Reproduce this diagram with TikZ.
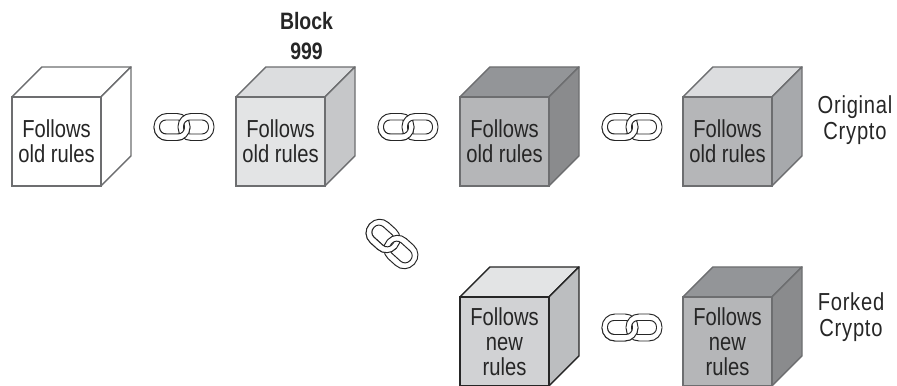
\documentclass[tikz,border=0pt]{standalone}
\usepackage{fontspec}
\setmainfont[FakeStretch=0.82]{Liberation Sans}
\tikzset{
    cubelabel/.style={align=center, text=black!85, font=\fontsize{14}{14.2}\selectfont, inner sep=0pt},
    sidelabel/.style={align=center, text=black!85, font=\fontsize{14}{14.8}\selectfont\addfontfeature{LetterSpace=3}, inner sep=0pt},
    linkring/.style={draw=black!85, line width=0.55pt, fill=white, even odd rule}
}
% cube: name, front lower left x y, front, top, side, edge colour, text
\newcommand{\cubeblock}[8]{
    \draw[draw=#7, line width=0.8pt, line join=round, fill=#5] (#2,#3+1.78) -- ++(0.6,0.6) -- ++(1.78,0) -- ++(-0.6,-0.6) -- cycle;
    \draw[draw=#7, line width=0.8pt, line join=round, fill=#6] (#2+1.78,#3) -- ++(0.6,0.6) -- ++(0,1.78) -- ++(-0.6,-0.6) -- cycle;
    \draw[draw=#7, line width=0.8pt, fill=#4] (#2,#3) rectangle ++(1.78,1.78);
    \node[cubelabel] (#1) at (#2+0.89,#3+0.89) {#8};
}
% one ring of a link, centred on x
\newcommand{\linkpart}[1]{
    \path[linkring] [rounded corners=0.26cm] (#1-0.36,-0.27) rectangle (#1+0.36,0.27)
        [rounded corners=0.13cm] (#1-0.25,-0.14) rectangle (#1+0.25,0.14);
}
% chain link: centre x y, angle
\newcommand{\chainlink}[3]{
    \begin{scope}[shift={(#1,#2)}, rotate=#3]
        \linkpart{-0.24}
        \linkpart{0.24}
        \begin{scope}
            \clip (-0.8,0) rectangle (0.8,-0.4);
            \linkpart{-0.24}
        \end{scope}
    \end{scope}
}
\definecolor{edgegray}{HTML}{6D6E70}
\definecolor{paleface}{HTML}{E3E4E5}
\definecolor{paletop}{HTML}{DCDDDF}
\definecolor{paleside}{HTML}{C6C7C9}
\definecolor{midface}{HTML}{B5B6B8}
\definecolor{darktop}{HTML}{939598}
\definecolor{darkside}{HTML}{8A8B8D}
\definecolor{oldside}{HTML}{A7A9AC}
\definecolor{newface}{HTML}{D1D2D4}
\definecolor{newside}{HTML}{BCBEC0}
\begin{document}
\begin{tikzpicture}
    \useasboundingbox (0,0) rectangle (17.94,7.72);
    \clip (0,0) rectangle (17.94,7.72);

    % Top row
    \cubeblock{oldA}{0.24}{4}{white}{white}{white}{edgegray}{Follows\\old rules}
    \cubeblock{oldB}{4.72}{4}{paleface}{paletop}{paleside}{edgegray}{Follows\\old rules}
    \cubeblock{oldC}{9.2}{4}{midface}{darktop}{darkside}{edgegray}{Follows\\old rules}
    \cubeblock{oldD}{13.66}{4}{midface}{paletop}{oldside}{edgegray}{Follows\\old rules}

    % Bottom row
    \cubeblock{newA}{9.2}{0}{newface}{paleface}{newside}{black!85}{Follows\\new\\rules}
    \cubeblock{newB}{13.66}{0}{midface}{darktop}{darkside}{edgegray}{Follows\\new\\rules}

    % Links
    \chainlink{3.68}{5.18}{0}
    \chainlink{8.16}{5.18}{0}
    \chainlink{12.64}{5.18}{0}
    \chainlink{12.64}{1.17}{0}
    \chainlink{7.84}{2.84}{-42}

    % Labels
    \node[align=center, text=black!85, inner sep=0pt, font=\bfseries\fontsize{13.5}{17}\selectfont] (blocklabel) at (6.13,7.0) {Block\\999};
    \node[sidelabel] (origlabel) at (17.1,5.32) {Original\\Crypto};
    \node[sidelabel] (forklabel) at (17.02,1.38) {Forked\\Crypto};
\end{tikzpicture}
\end{document}
